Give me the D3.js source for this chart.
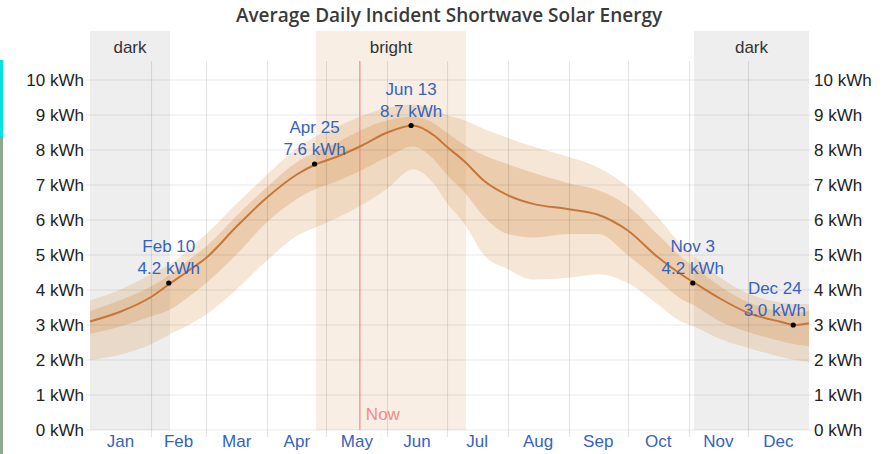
<!DOCTYPE html>
<html><head><meta charset="utf-8">
<script src="https://cdn.jsdelivr.net/npm/d3@7/dist/d3.min.js"></script>
<style>body{margin:0;background:#fff}svg{display:block}</style>
</head><body>
<svg id="chart" width="884" height="454"></svg>
<script>
// ---- data (day of year, 0 = Jan 1) ----
const days      = [0, 15, 31, 41, 50, 59, 75, 90, 105, 115, 125, 137, 151, 164, 175, 181, 190, 200, 212, 225, 243, 258, 273, 288, 300, 307, 320, 334, 350, 358, 365];
const meanKWh   = [3.1, 3.37, 3.8, 4.2, 4.55, 4.92, 5.85, 6.65, 7.3, 7.6, 7.8, 8.1, 8.5, 8.7, 8.4, 8.1, 7.68, 7.12, 6.71, 6.46, 6.31, 6.15, 5.7, 4.95, 4.45, 4.2, 3.75, 3.35, 3.1, 3.0, 3.05];
const p25       = [2.75, 2.95, 3.25, 3.45, 3.8, 4.2, 5.05, 5.95, 6.6, 6.9, 7.1, 7.4, 7.8, 8.1, 7.7, 7.3, 6.8, 6.1, 5.6, 5.5, 5.6, 5.6, 5.0, 4.3, 3.75, 3.55, 3.1, 2.8, 2.55, 2.45, 2.4];
const p75       = [3.4, 3.7, 4.1, 4.45, 4.85, 5.25, 6.15, 6.95, 7.65, 7.95, 8.2, 8.55, 8.85, 8.95, 8.75, 8.5, 8.15, 7.85, 7.6, 7.35, 7.05, 6.85, 6.4, 5.6, 4.95, 4.65, 4.1, 3.65, 3.4, 3.35, 3.4];
const p10       = [2.0, 2.15, 2.45, 2.75, 3.0, 3.3, 4.05, 4.85, 5.55, 5.8, 6.05, 6.4, 6.9, 7.45, 7.0, 6.5, 5.9, 5.0, 4.6, 4.3, 4.35, 4.45, 4.2, 3.6, 3.1, 2.95, 2.6, 2.35, 2.1, 2.0, 1.95];
const p90       = [3.7, 4.0, 4.45, 4.75, 5.15, 5.6, 6.5, 7.3, 8.05, 8.4, 8.65, 8.95, 9.2, 9.3, 9.15, 9.0, 8.85, 8.6, 8.35, 8.1, 7.8, 7.5, 6.95, 6.1, 5.3, 4.95, 4.35, 3.9, 3.65, 3.6, 3.6];

const annDays   = [40, 114, 163, 306, 357];
const annVals   = [4.2, 7.6, 8.7, 4.2, 3.0];
const annDates  = ["Feb 10", "Apr 25", "Jun 13", "Nov 3", "Dec 24"];

const darkPeriods   = [[0, 40.6], [306.6, 365]];
const brightPeriods = [[114.7, 190.9]];
const nowDay = 137;

const monthStarts = [0, 31, 59, 90, 120, 151, 181, 212, 243, 273, 304, 334, 365];
const monthNames  = ["Jan","Feb","Mar","Apr","May","Jun","Jul","Aug","Sep","Oct","Nov","Dec"];
const yTicks = [0,1,2,3,4,5,6,7,8,9,10];
const title = "Average Daily Incident Shortwave Solar Energy";

// ---- layout ----
const svg = d3.select("#chart");
const x = d3.scaleLinear().domain([0, 365]).range([90, 809]);
const y = d3.scaleLinear().domain([0, 10]).range([430, 80]);
const font = "'Liberation Sans', Arial, sans-serif";

// left edge strip
svg.append("rect").attr("x",0).attr("y",60).attr("width",3).attr("height",77).attr("fill","#00e3e3");
svg.append("rect").attr("x",0).attr("y",137).attr("width",3).attr("height",317).attr("fill","#8fa98f");

// title
svg.append("text").attr("x", 449).attr("y", 22).attr("text-anchor","middle")
  .attr("font-family","'Open Sans', sans-serif").attr("font-weight",600).attr("font-size",19)
  .attr("fill","#3a3a3a").text(title);

// period bands
darkPeriods.forEach(p => {
  svg.append("rect").attr("x", x(p[0])).attr("y", 31).attr("width", x(p[1]) - x(p[0])).attr("height", 430 - 31).attr("fill", "#eeeeee");
  svg.append("text").attr("x", (x(p[0]) + x(p[1])) / 2).attr("y", 53).attr("text-anchor","middle")
    .attr("font-family", font).attr("font-size", 17).attr("fill", "#333").text("dark");
});
brightPeriods.forEach(p => {
  svg.append("rect").attr("x", x(p[0])).attr("y", 31).attr("width", x(p[1]) - x(p[0])).attr("height", 430 - 31).attr("fill", "#f8eee4");
  svg.append("text").attr("x", (x(p[0]) + x(p[1])) / 2).attr("y", 53).attr("text-anchor","middle")
    .attr("font-family", font).attr("font-size", 17).attr("fill", "#333").text("bright");
});

// data
const rows = days.map((d, i) => ({d, m: meanKWh[i], lo25: p25[i], hi75: p75[i], lo10: p10[i], hi90: p90[i]}));
const curve = d3.curveMonotoneX;
const area = (lo, hi) => d3.area().x(r => x(r.d)).y0(r => y(r[lo])).y1(r => y(r[hi])).curve(curve);
svg.append("path").datum(rows).attr("d", area("lo10","hi90")).attr("fill", "rgba(212,146,78,0.23)");
svg.append("path").datum(rows).attr("d", area("lo25","hi75")).attr("fill", "rgba(212,146,78,0.3)");

// gridlines
const grid = svg.append("g");
yTicks.forEach(t => {
  grid.append("line").attr("x1", 86).attr("x2", 812).attr("y1", y(t)).attr("y2", y(t))
    .attr("stroke", "rgba(0,0,0,0.09)").attr("stroke-width", 1.2);
});
monthStarts.slice(1, 12).forEach(ms => {
  grid.append("line").attr("x1", Math.round(x(ms)) + 0.5).attr("x2", Math.round(x(ms)) + 0.5).attr("y1", 61).attr("y2", 437)
    .attr("stroke", "rgba(0,0,0,0.1)").attr("stroke-width", 1.2);
});

// now line
svg.append("line").attr("x1", x(nowDay)).attr("x2", x(nowDay)).attr("y1", 61).attr("y2", 430)
  .attr("stroke", "#f58a8a").attr("stroke-width", 1.2);
svg.append("text").attr("x", x(nowDay) + 6).attr("y", 420).attr("font-family", font).attr("font-size", 17)
  .attr("fill", "#f58a8a").text("Now");

// mean line
svg.append("path").datum(rows)
  .attr("d", d3.line().x(r => x(r.d)).y(r => y(r.m)).curve(curve))
  .attr("fill", "none").attr("stroke", "#c5773a").attr("stroke-width", 2);

// axes labels
const yAxisL = d3.axisLeft(y).tickValues(yTicks).tickFormat(d => d + " kWh").tickSize(0).tickPadding(6);
const gL = svg.append("g").attr("transform", "translate(84,0)").call(yAxisL);
const yAxisR = d3.axisRight(y).tickValues(yTicks).tickFormat(d => d + " kWh").tickSize(0).tickPadding(6);
const gR = svg.append("g").attr("transform", "translate(808,0)").call(yAxisR);
[gL, gR].forEach(g => {
  g.select(".domain").remove();
  g.selectAll("text").attr("font-family", font).attr("font-size", 17).attr("fill", "#222");
});
gL.selectAll("text").attr("x", 0);

const monthMid = monthNames.map((n, i) => (monthStarts[i] + monthStarts[i+1]) / 2);
svg.append("g").selectAll("text").data(monthNames).join("text")
  .attr("x", (n, i) => x(monthMid[i])).attr("y", 447).attr("text-anchor", "middle")
  .attr("font-family", font).attr("font-size", 17).attr("fill", "#3562c4").text(d => d);

// annotations
annDays.forEach((d, i) => {
  const px = x(d), py = y(annVals[i]);
  svg.append("circle").attr("cx", px).attr("cy", py).attr("r", 2.6).attr("fill", "#000");
  const l1 = annDates[i], l2 = annVals[i].toFixed(1) + " kWh";
  const g = svg.append("g").attr("font-family", font).attr("font-size", 17).attr("fill", "#3562c4").attr("text-anchor", "middle");
  const t1 = g.append("text").attr("x", px).attr("y", py - 31).text(l1);
  const t2 = g.append("text").attr("x", px).attr("y", py - 9).text(l2);
  const w = Math.max(t1.node().getComputedTextLength(), t2.node().getComputedTextLength());
  const cx = Math.min(px, 806 - w / 2);
  t1.attr("x", cx); t2.attr("x", cx);
});
</script>
</body></html>
